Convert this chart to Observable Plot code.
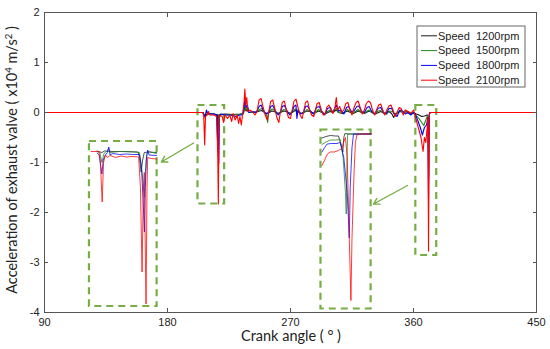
<!DOCTYPE html>
<html><head><meta charset="utf-8">
<script src="https://cdn.jsdelivr.net/npm/d3@7"></script>
<script src="https://cdn.jsdelivr.net/npm/@observablehq/plot@0.6"></script>
<style>body{margin:0;background:#fff} #chart{width:550px;height:349px}</style>
</head><body><div id="chart"></div>
<script>
const seriesNames = ["Speed  1200rpm", "Speed  1500rpm", "Speed  1800rpm", "Speed  2100rpm"];
const seriesColors = ["#1a1a1a", "#1d8a1d", "#0000ff", "#ff0000"];
const xTicks = [90, 180, 270, 360, 450];
const yTicks = [-4, -3, -2, -1, 0, 1, 2];
const xLabel = "Crank angle ( \u00b0 )";

// main traces [crank angle deg, acceleration x10^4 m/s^2]
const s1200 = [[90,0],[206,0],[206.5,-0.03],[208,-0.05],[210,-0.02],[214,-0.03],[215.8,-0.05],[216.2,-0.25],[216.6,-0.55],[217,-0.2],[217.6,-0.04],[222,-0.03],[228,-0.04],[233,-0.03],[235.5,-0.02],[236.6,0.1],[237.5,0.03],[238.5,0.05],[239.5,0.0],[244,0.0],[247.5,0.03],[249,0.04],[251,0.0],[253,-0.02],[256.5,0.03],[258,0.02],[261,-0.02],[265,0.03],[267,0.02],[270,-0.02],[273.5,0.04],[275.5,0.01],[278,-0.02],[282,0.03],[284,0.02],[287,-0.02],[290.5,0.03],[293,0.0],[295,-0.03],[299,0.02],[301,0.0],[303.5,0.05],[305,0.0],[308,-0.02],[311.5,0.03],[314,0.0],[316,-0.02],[319.5,0.03],[322,0.0],[324,-0.02],[327.5,0.03],[330,0.0],[332,-0.03],[336,0.02],[339,-0.02],[342,0.02],[344,-0.02],[345.5,-0.1],[346.5,-0.03],[350,0.02],[353,0.0],[356,0.02],[358,-0.03],[360,0.0],[362,-0.03],[364,-0.05],[366,-0.08],[368,-0.07],[370,-0.05],[371.2,-0.25],[371.6,-0.05],[372,0],[450,0]];
const s1500 = [[90,0],[206,0],[206.5,-0.05],[207.5,-0.08],[208.5,0.02],[210,-0.03],[214,-0.03],[216.5,-0.04],[217.2,-0.3],[217.8,-0.05],[222,-0.04],[228,-0.05],[233,-0.04],[235.5,-0.02],[236.6,0.15],[237.5,0.05],[238.5,0.1],[239.5,0.0],[242,0.0],[245,0.02],[247.5,0.06],[249,0.08],[251,0.0],[252.5,-0.05],[253.3,-0.2],[254,0.0],[256.5,0.07],[258,0.05],[260,-0.02],[262.5,0.0],[265,0.06],[267,0.04],[269,-0.02],[271,0.0],[273.5,0.07],[275.5,0.03],[277.5,-0.02],[280,0.0],[282,0.06],[284,0.03],[286,-0.02],[288,0.0],[290.5,0.06],[292.5,0.02],[294.5,-0.03],[297,0.02],[299,0.05],[301,0.0],[303.5,0.08],[305,0.0],[307,0.02],[309,-0.02],[311.5,0.06],[313.5,0.02],[315.5,-0.02],[317.5,0.02],[319.5,0.06],[321.5,0.01],[323.5,-0.02],[325.5,0.02],[327.5,0.05],[329.5,0.0],[331.5,-0.03],[334,0.03],[336,0.04],[338,-0.02],[340.5,-0.03],[342.5,0.03],[344.5,0.02],[346.5,-0.05],[348.5,0.0],[350.5,0.04],[352.5,0.0],[354.5,0.04],[356,-0.02],[358,0.0],[360,-0.02],[362,-0.06],[364,-0.12],[366,-0.2],[367.5,-0.26],[369,-0.15],[370.5,-0.05],[371.1,-1.3],[371.6,-0.05],[372,0],[450,0]];
const s1800 = [[90,0],[206,0],[206.5,-0.05],[207.5,-0.1],[208.5,0.05],[209.5,-0.03],[214,-0.03],[216.5,-0.05],[217.5,-1.02],[218,-0.1],[219,-0.03],[222,-0.05],[226,-0.05],[230,-0.08],[233,-0.05],[235,-0.05],[236,0.1],[236.6,0.25],[237.5,0.1],[238.5,0.15],[239.5,0.0],[242,0.02],[245,0.0],[247,0.12],[248.5,0.15],[250,0.05],[252,-0.03],[254,0.0],[255.5,0.12],[257,0.14],[259,0.03],[261,-0.05],[262.5,0.0],[264,0.12],[265.5,0.14],[267.5,0.03],[269.5,-0.05],[271,0.0],[272.5,0.12],[274,0.15],[274.7,-0.12],[275.5,0.05],[277.5,-0.03],[279.5,0.0],[281,0.12],[282.5,0.13],[284.5,0.03],[287,-0.03],[289,0.1],[291,0.12],[293,0.02],[295,-0.05],[297,0.08],[299,0.1],[301,0.0],[303.5,0.15],[305,0.03],[307,0.05],[309,-0.03],[311,0.1],[312.5,0.12],[314.5,0.02],[316.5,0.03],[318.5,0.12],[320,0.13],[322,0.02],[324,0.0],[326,0.1],[327.5,0.12],[329.5,0.02],[331.5,-0.03],[334,0.08],[336,0.1],[338,0.0],[340,-0.03],[342,0.08],[344,0.08],[346,-0.03],[348,-0.08],[350,0.05],[352,0.03],[354,-0.03],[356,0.0],[358,-0.05],[360,0.0],[361.5,-0.05],[363,-0.15],[365,-0.3],[366.5,-0.45],[368,-0.3],[369.5,-0.25],[370.5,-0.1],[371,-1.73],[371.5,-0.05],[372,0],[450,0]];
const s2100 = [[90,0],[206,0],[206.5,-0.05],[207.2,-0.65],[207.8,-0.08],[209,-0.05],[210,0.02],[211,-0.05],[214,-0.05],[216,-0.08],[216.8,-0.9],[217.2,-1.83],[217.6,-0.4],[218,-0.05],[220,-0.08],[221,-0.2],[222,-0.05],[224,-0.12],[225.5,-0.05],[227,-0.18],[228,-0.02],[229.5,-0.15],[231,-0.05],[232,-0.22],[233,-0.08],[234,-0.25],[235,-0.02],[236,0.2],[236.6,0.47],[237.3,0.15],[238,0.3],[238.8,0.02],[240,0.05],[242,0.02],[244,-0.05],[245.5,0.02],[247,0.25],[248.5,0.28],[250,0.1],[251.5,-0.05],[253,-0.15],[254,0.0],[255.5,0.22],[257,0.25],[258.5,0.08],[260,-0.1],[261.5,-0.2],[262.5,0.0],[264,0.2],[265.5,0.23],[267,0.05],[268.5,-0.1],[270,-0.12],[271,0.02],[272.5,0.22],[274,0.27],[275.5,0.1],[277,-0.05],[278.5,-0.12],[279.5,0.0],[281,0.2],[282.5,0.23],[284,0.05],[285.5,-0.05],[287,-0.08],[288,0.02],[289.5,0.18],[291,0.2],[292.5,0.05],[294,-0.05],[295.5,-0.02],[296.5,0.1],[298,0.15],[299.5,0.08],[301,-0.02],[302.5,0.1],[303.5,0.3],[304.5,0.05],[306,0.12],[307.5,0.0],[309,0.05],[310.5,0.18],[312,0.2],[313.5,0.05],[315,-0.05],[316.5,0.1],[318,0.2],[319.5,0.23],[321,0.1],[322.5,-0.03],[324,0.05],[325.5,0.18],[327,0.23],[328.5,0.2],[330,0.05],[331.5,-0.05],[333,0.05],[334.5,0.15],[336,0.17],[337.5,0.05],[339,-0.05],[340.5,0.05],[342,0.13],[343.5,0.15],[345,0.05],[346.5,-0.08],[348,0.0],[349.5,0.1],[351,0.08],[352.5,-0.05],[354,0.05],[356,0.02],[358,-0.02],[360,0.05],[361,-0.05],[362.5,-0.2],[364,-0.35],[365.5,-0.5],[367,-0.78],[368,-0.5],[369,-0.6],[370,-0.3],[370.5,-0.1],[371,-2.77],[371.5,-0.05],[372,0],[450,0]];

// enlarged inset copies (drawn in main-axis units)
const inL1200 = [[128.5,-0.77],[132,-0.8],[134,-0.77],[140,-0.78],[150,-0.78],[158.5,-0.79],[159.5,-0.9],[160.7,-1.19],[161.8,-0.95],[163,-0.8],[166,-0.79],[171.9,-0.8]];
const inL1500 = [[128.5,-0.78],[130.5,-0.8],[132,-1.0],[133.5,-0.82],[136,-0.76],[137,-0.72],[138,-0.8],[145,-0.78],[155,-0.79],[159.5,-0.8],[161,-1.1],[162.5,-1.5],[163.1,-1.69],[163.8,-1.2],[164.8,-0.82],[166,-0.78],[171.9,-0.82]];
const inL1800 = [[128.5,-0.81],[130,-0.85],[131,-1.05],[132,-1.23],[133,-0.95],[134.5,-0.85],[136,-0.8],[137,-0.69],[138,-0.85],[140,-0.82],[145,-0.84],[150,-0.83],[155,-0.84],[159.5,-0.84],[161,-1.1],[162.2,-1.8],[163.1,-2.39],[163.8,-1.5],[164.5,-0.95],[165.5,-0.75],[166.5,-0.85],[171.9,-0.86]];
const inL2100 = [[124.1,-0.78],[129.7,-0.78],[130.8,-0.95],[132.2,-1.79],[133.2,-1.0],[134.6,-0.85],[136,-0.9],[138,-0.86],[142,-0.9],[146,-0.87],[150,-0.89],[154,-0.88],[158.9,-0.89],[160.2,-1.5],[161.4,-3.19],[162.3,-1.6],[163,-1.2],[164.3,-3.83],[165,-1.5],[165.5,-0.9],[168,-0.92],[171.9,-0.93]];
const inC1200 = [[293,-0.51],[296,-0.48],[299.1,-0.46],[303,-0.47],[305.1,-0.47],[306.5,-0.6],[308.3,-0.79],[309,-0.5],[309.8,-0.42],[312,-0.43],[329,-0.43]];
const inC1500 = [[293,-0.64],[296,-0.59],[299.1,-0.55],[303,-0.55],[306.4,-0.54],[308.5,-0.9],[310.2,-1.6],[310.8,-2.03],[311.3,-1.0],[311.8,-0.42],[312.5,-0.43],[329,-0.43]];
const inC1800 = [[293,-0.79],[295,-0.7],[296.8,-0.63],[300,-0.62],[304,-0.62],[306.4,-0.6],[309,-0.9],[311.5,-1.6],[313,-2.51],[313.7,-1.5],[315,-0.7],[316.1,-0.43],[329,-0.43]];
const inC2100 = [[293,-1.06],[295,-0.95],[297,-0.83],[299.1,-0.79],[302,-0.79],[305,-0.76],[307.6,-0.72],[308.8,-0.6],[310.2,-0.5],[311.5,-0.9],[313,-2.5],[314.2,-3.76],[315,-2.5],[316.5,-1.2],[317.5,-0.6],[318.6,-0.45],[320,-0.43],[329,-0.43]];

// dashed zoom boxes and arrows
const boxes = [
  {x1: 202.3, x2: 221.8, y1: 0.14, y2: -1.83},
  {x1: 122.9, x2: 172.4, y1: -0.58, y2: -3.88},
  {x1: 361.7, x2: 377.0, y1: 0.14, y2: -2.86},
  {x1: 292.3, x2: 329.0, y1: -0.35, y2: -3.93}
];
const arrows = [
  {x1: 199.1, y1: -0.61, x2: 175.5, y2: -0.99},
  {x1: 355.6, y1: -1.46, x2: 330.7, y2: -1.83}
];

const main = [s1200, s1500, s1800, s2100];
const insets = [[inL1200, inC1200], [inL1500, inC1500], [inL1800, inC1800], [inL2100, inC2100]];
const toRows = a => a.map(([x, y]) => ({x, y}));
const boxGreen = "#77ad45";
const tickFont = "Liberation Sans, Arial, sans-serif";
const fmt = d => String(d);

const marks = [];
marks.push(Plot.rect(boxes, {x1: "x1", x2: "x2", y1: "y1", y2: "y2", fill: "none", stroke: boxGreen, strokeWidth: 2.2, strokeDasharray: "7,5"}));
marks.push(Plot.arrow(arrows, {x1: "x1", y1: "y1", x2: "x2", y2: "y2", stroke: boxGreen, strokeWidth: 1.4, headLength: 7}));
insets.forEach((pair, i) => pair.forEach(a => marks.push(Plot.line(toRows(a), {x: "x", y: "y", stroke: seriesColors[i], strokeWidth: 0.9, strokeOpacity: 0.85}))));
main.forEach((a, i) => marks.push(Plot.line(toRows(a), {x: "x", y: "y", stroke: seriesColors[i], strokeWidth: 1.1})));
marks.push(Plot.frame({stroke: "#555", strokeWidth: 1}));
marks.push(Plot.axisX({ticks: xTicks, tickFormat: fmt, anchor: "bottom", tickSize: 0, tickPadding: 6, label: null, fontSize: 11, fontFamily: tickFont}));
marks.push(Plot.axisY({ticks: yTicks, tickFormat: fmt, anchor: "left", tickSize: 0, tickPadding: 5, label: null, fontSize: 11, fontFamily: tickFont}));
marks.push(Plot.axisX({ticks: xTicks, anchor: "bottom", tickSize: -4, tickFormat: () => "", label: null, stroke: "#555"}));
marks.push(Plot.axisX({ticks: xTicks, anchor: "top", tickSize: -4, tickFormat: () => "", label: null, stroke: "#555"}));
marks.push(Plot.axisY({ticks: yTicks, anchor: "left", tickSize: -4, tickFormat: () => "", label: null, stroke: "#555"}));
marks.push(Plot.axisY({ticks: yTicks, anchor: "right", tickSize: -4, tickFormat: () => "", label: null, stroke: "#555"}));

const svg = Plot.plot({
  width: 550, height: 349,
  marginLeft: 44, marginRight: 14, marginTop: 12, marginBottom: 37,
  x: {domain: [90, 450]},
  y: {domain: [-4, 2]},
  style: {background: "#fff", color: "#222"},
  marks
});
document.getElementById("chart").appendChild(svg);

const s = d3.select(svg);
// axis titles
s.append("text").attr("x", 291).attr("y", 341).attr("text-anchor", "middle")
  .style("font-family", "Lato, sans-serif").style("font-size", "14.5px").attr("fill", "#222").text(xLabel);
const yl = s.append("text").attr("transform", "translate(17,160) rotate(-90)").attr("text-anchor", "middle")
  .style("font-family", "Lato, sans-serif").style("font-size", "14.5px").attr("fill", "#222");
yl.append("tspan").text("Acceleration of exhaust valve ( x10");
yl.append("tspan").attr("dy", -5).style("font-size", "9.5px").text("4");
yl.append("tspan").attr("dy", 5).text(" m/s");
yl.append("tspan").attr("dy", -5).style("font-size", "9.5px").text("2");
yl.append("tspan").attr("dy", 5).text(" )");

// legend
const lg = s.append("g").attr("transform", "translate(417,26)");
lg.append("rect").attr("width", 108).attr("height", 61).attr("fill", "#fff").attr("stroke", "#666");
seriesNames.forEach((n, i) => {
  const yy = 9.8 + 14.8 * i;
  lg.append("line").attr("x1", 4).attr("x2", 20).attr("y1", yy).attr("y2", yy).attr("stroke", seriesColors[i]).attr("stroke-width", 1);
  lg.append("text").attr("x", 21).attr("y", yy).attr("dy", "0.35em").attr("text-anchor", "start").style("white-space", "pre")
    .style("font-family", tickFont).style("font-size", "11px").attr("fill", "#222").text(n);
});
</script>
</body></html>
